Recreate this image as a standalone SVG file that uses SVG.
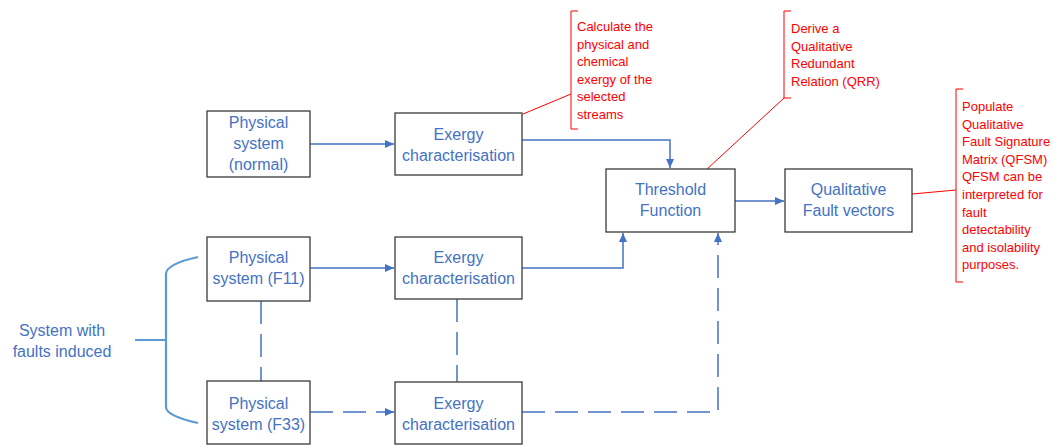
<svg xmlns="http://www.w3.org/2000/svg" width="1055" height="445" viewBox="0 0 1055 445">
<style>
.box{fill:#fff;stroke:#3a3a3a;stroke-width:1.3}
.t{font-family:"Liberation Sans",Arial,sans-serif;font-size:16px;fill:#4472C4;text-anchor:middle}
.r{font-family:"Liberation Sans",Arial,sans-serif;font-size:13px;fill:#FF0000}
.c{fill:none;stroke:#4472C4;stroke-width:1.5}
.d{stroke-dasharray:23 10}
.rl{fill:none;stroke:#FF0000;stroke-width:1}
</style>
<defs>
<marker id="ah" markerWidth="10" markerHeight="10" refX="9" refY="5" orient="auto" markerUnits="userSpaceOnUse">
<path d="M0,1 L9,5 L0,9 z" fill="#4472C4"/>
</marker>
</defs>
<rect width="1055" height="445" fill="#fff"/>
<g id="connectors">
<line class="c" x1="310" y1="144" x2="394" y2="144" marker-end="url(#ah)"/>
<polyline class="c" points="522,140 670,140 670,168" marker-end="url(#ah)"/>
<line class="c" x1="310" y1="268" x2="394" y2="268" marker-end="url(#ah)"/>
<polyline class="c" points="522,268 623,268 623,233" marker-end="url(#ah)"/>
<line class="c d" x1="310" y1="412" x2="394" y2="412" marker-end="url(#ah)"/>
<polyline class="c d" points="522,412 718,412 718,233" marker-end="url(#ah)"/>
<line class="c d" x1="261" y1="301" x2="261" y2="381"/>
<line class="c d" x1="457" y1="299" x2="457" y2="382"/>
<line class="c" x1="735" y1="201" x2="784" y2="201" marker-end="url(#ah)"/>
<path d="M135,340 H166 M166,274 V407 M198,257 C180,261 166,266 166,274 M198,423 C180,419 166,414 166,407" fill="none" stroke="#5B9BD5" stroke-width="2.2"/>
</g>
<g id="annotations">
<path class="rl" d="M523,114 L571,94 M578,11 H571 V129 H578"/>
<path class="rl" d="M706,170 L784,98 M791,11 H784 V98 H791"/>
<path class="rl" d="M912,194 L956,190 M963,89 H956 V282 H963"/>
<text class="r" x="577" y="31"><tspan x="577">Calculate the</tspan><tspan x="577" dy="17.5">physical and</tspan><tspan x="577" dy="17.5">chemical</tspan><tspan x="577" dy="17.5">exergy of the</tspan><tspan x="577" dy="17.5">selected</tspan><tspan x="577" dy="17.5">streams</tspan></text>
<text class="r" x="791" y="33"><tspan x="791">Derive a</tspan><tspan x="791" dy="17.5">Qualitative</tspan><tspan x="791" dy="17.5">Redundant</tspan><tspan x="791" dy="17.5">Relation (QRR)</tspan></text>
<text class="r" x="962" y="111"><tspan x="962">Populate</tspan><tspan x="962" dy="17.6">Qualitative</tspan><tspan x="962" dy="17.6">Fault Signature</tspan><tspan x="962" dy="17.6">Matrix (QFSM)</tspan><tspan x="962" dy="17.6">QFSM can be</tspan><tspan x="962" dy="17.6">interpreted for</tspan><tspan x="962" dy="17.6">fault</tspan><tspan x="962" dy="17.6">detectability</tspan><tspan x="962" dy="17.6">and isolability</tspan><tspan x="962" dy="17.6">purposes.</tspan></text>
</g>
<g id="label-faults">
<text class="t" x="62" y="336">System with</text>
<text class="t" x="62" y="357">faults induced</text>
</g>
<g id="phys-normal">
<rect class="box" x="207" y="111" width="103" height="66"/>
<text class="t" x="258.5" y="128">Physical</text>
<text class="t" x="258.5" y="149">system</text>
<text class="t" x="258.5" y="170">(normal)</text>
</g>
<g id="exergy-normal">
<rect class="box" x="395" y="113" width="127" height="62"/>
<text class="t" x="458.5" y="140">Exergy</text>
<text class="t" x="458.5" y="161">characterisation</text>
</g>
<g id="threshold">
<rect class="box" x="606" y="169" width="129" height="63"/>
<text class="t" x="670.5" y="195">Threshold</text>
<text class="t" x="670.5" y="216">Function</text>
</g>
<g id="fault-vectors">
<rect class="box" x="785" y="169" width="127" height="63"/>
<text class="t" x="848.5" y="195">Qualitative</text>
<text class="t" x="848.5" y="216">Fault vectors</text>
</g>
<g id="phys-f11">
<rect class="box" x="207" y="237" width="103" height="64"/>
<text class="t" x="258.5" y="263">Physical</text>
<text class="t" x="258.5" y="284">system (F11)</text>
</g>
<g id="exergy-f11">
<rect class="box" x="395" y="237" width="127" height="62"/>
<text class="t" x="458.5" y="263">Exergy</text>
<text class="t" x="458.5" y="284">characterisation</text>
</g>
<g id="phys-f33">
<rect class="box" x="207" y="381" width="103" height="63"/>
<text class="t" x="258.5" y="409">Physical</text>
<text class="t" x="258.5" y="430">system (F33)</text>
</g>
<g id="exergy-f33">
<rect class="box" x="395" y="382" width="127" height="62"/>
<text class="t" x="458.5" y="409">Exergy</text>
<text class="t" x="458.5" y="430">characterisation</text>
</g>
</svg>
